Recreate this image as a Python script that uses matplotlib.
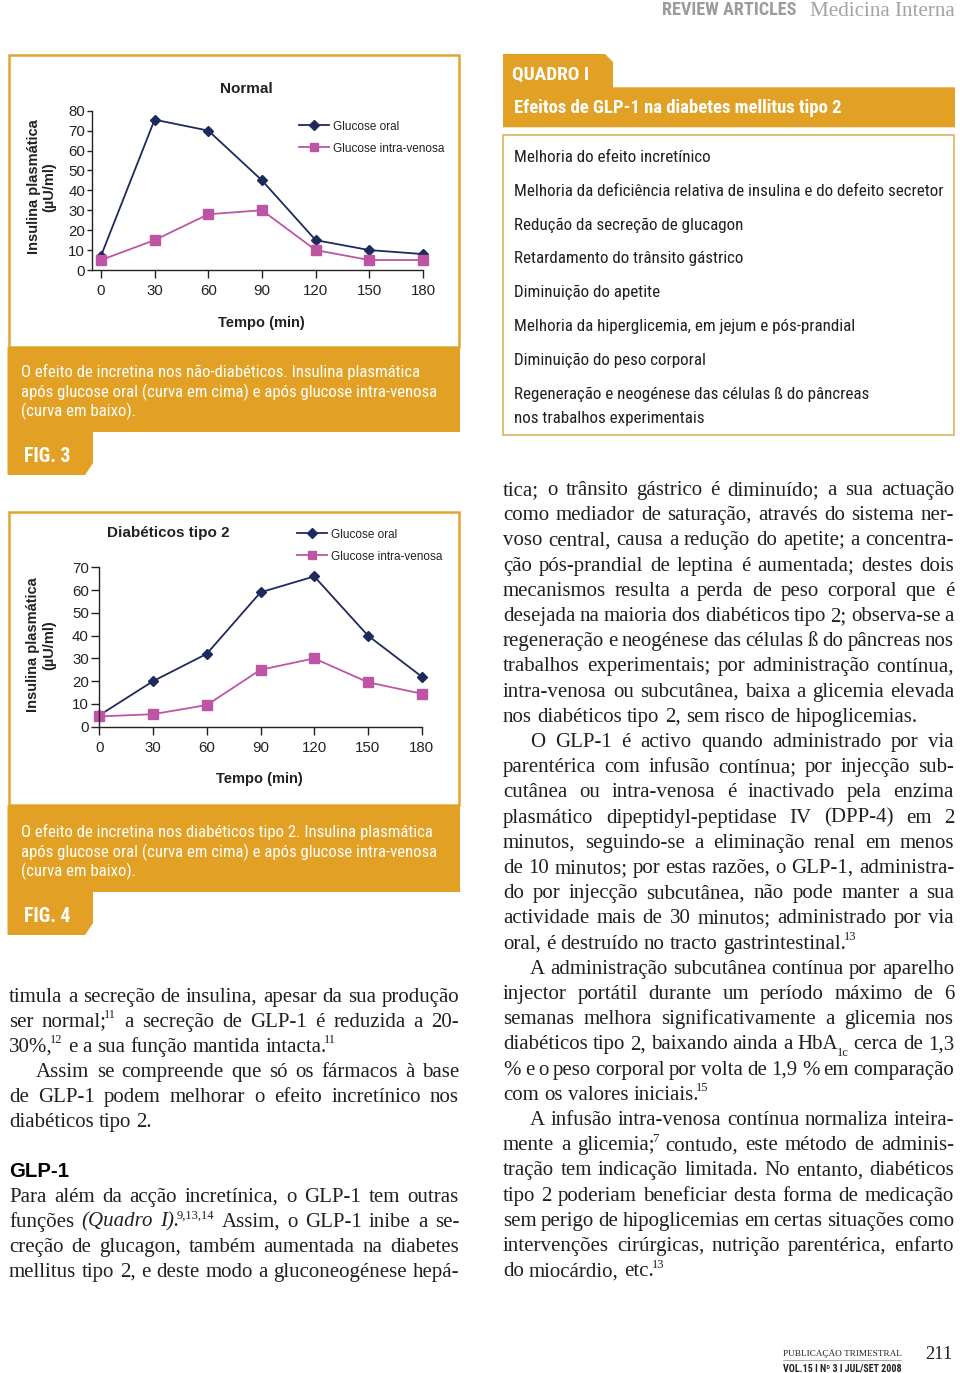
import matplotlib
matplotlib.use('Agg')
import matplotlib.pyplot as plt
from matplotlib import font_manager
from matplotlib.font_manager import FontProperties
from matplotlib.patches import Polygon, Rectangle

# ---- dados dos gráficos ----
tempo = [0, 30, 60, 90, 120, 150, 180]
normal_oral = [7, 75.5, 70, 45, 15, 10, 8]
normal_iv = [5, 15, 28, 30, 10, 5, 5]
diab_oral = [5, 20, 32, 59, 66, 40, 22]
diab_iv = [4.5, 5.5, 9.5, 25, 30, 19.5, 14.5]
series_nomes = ['Glucose oral', 'Glucose intra-venosa']
normal_yticks = [0, 10, 20, 30, 40, 50, 60, 70, 80]
diab_yticks = [0, 10, 20, 30, 40, 50, 60, 70]

# ---- textos ----
legenda_fig3 = ["O efeito de incretina nos não-diabéticos. Insulina plasmática",
                "após glucose oral (curva em cima) e após glucose intra-venosa",
                "(curva em baixo)."]
legenda_fig4 = ["O efeito de incretina nos diabéticos tipo 2. Insulina plasmática",
                "após glucose oral (curva em cima) e após glucose intra-venosa",
                "(curva em baixo)."]
quadro_itens = ["Melhoria do efeito incretínico",
                "Melhoria da deficiência relativa de insulina e do defeito secretor",
                "Redução da secreção de glucagon",
                "Retardamento do trânsito gástrico",
                "Diminuição do apetite",
                "Melhoria da hiperglicemia, em jejum e pós-prandial",
                "Diminuição do peso corporal",
                "Regeneração e neogénese das células ß do pâncreas",
                "nos trabalhos experimentais"]

# (linha inicial, recuo, linhas, última linha livre)
texto_esq = [
    (0, False, ["timula a secreção de insulina, apesar da sua produção",
                "ser normal;^11 a secreção de GLP-1 é reduzida a 20-",
                "30%,^12 e a sua função mantida intacta.^11"], True),
    (3, True, ["Assim se compreende que só os fármacos à base",
               "de GLP-1 podem melhorar o efeito incretínico nos",
               "diabéticos tipo 2."], True),
    (8, False, ["Para além da acção incretínica, o GLP-1 tem outras",
                "funções *(Quadro *I).^9,13,14 Assim, o GLP-1 inibe a se-",
                "creção de glucagon, também aumentada na diabetes",
                "mellitus tipo 2, e deste modo a gluconeogénese hepá-"], False),
]
texto_dir = [
    (0, False, ["tica; o trânsito gástrico é diminuído; a sua actuação",
                "como mediador de saturação, através do sistema ner-",
                "voso central, causa a redução do apetite; a concentra-",
                "ção pós-prandial de leptina é aumentada; destes dois",
                "mecanismos resulta a perda de peso corporal que é",
                "desejada na maioria dos diabéticos tipo 2; observa-se a",
                "regeneração e neogénese das células ß do pâncreas nos",
                "trabalhos experimentais; por administração contínua,",
                "intra-venosa ou subcutânea, baixa a glicemia elevada",
                "nos diabéticos tipo 2, sem risco de hipoglicemias."], True),
    (10, True, ["O GLP-1 é activo quando administrado por via",
                "parentérica com infusão contínua; por injecção sub-",
                "cutânea ou intra-venosa é inactivado pela enzima",
                "plasmático dipeptidyl-peptidase IV (DPP-4) em 2",
                "minutos, seguindo-se a eliminação renal em menos",
                "de 10 minutos; por estas razões, o GLP-1, administra-",
                "do por injecção subcutânea, não pode manter a sua",
                "actividade mais de 30 minutos; administrado por via",
                "oral, é destruído no tracto gastrintestinal.^13"], True),
    (19, True, ["A administração subcutânea contínua por aparelho",
                "injector portátil durante um período máximo de 6",
                "semanas melhora significativamente a glicemia nos",
                "diabéticos tipo 2, baixando ainda a HbA_1c cerca de 1,3",
                "% e o peso corporal por volta de 1,9 % em comparação",
                "com os valores iniciais.^15"], True),
    (25, True, ["A infusão intra-venosa contínua normaliza inteira-",
                "mente a glicemia;^7 contudo, este método de adminis-",
                "tração tem indicação limitada. No entanto, diabéticos",
                "tipo 2 poderiam beneficiar desta forma de medicação",
                "sem perigo de hipoglicemias em certas situações como",
                "intervenções cirúrgicas, nutrição parentérica, enfarto",
                "do miocárdio, etc.^13"], True),
]

# ---- cores e fontes ----
LARANJA = '#E2A124'
BORDA = '#E3A530'
NAVY = '#1F2A5C'
MAGENTA = '#BE55A4'
TINTA = '#231F20'

nomes = {f.name for f in font_manager.fontManager.ttflist}
def escolher(*cands):
    for c in cands:
        if c in nomes:
            return c
    return 'DejaVu Sans'

ESTREITA = escolher('Liberation Sans Narrow', 'Roboto Condensed', 'Open Sans Condensed',
                    'DejaVu Sans Condensed', 'Liberation Sans')
SANS = escolher('Liberation Sans', 'Arial', 'DejaVu Sans')
SERIF = escolher('Liberation Serif', 'DejaVu Serif')

W, H = 960, 1373
PX = 100 / 72.0

fig = plt.figure(figsize=(9.6, 13.73), dpi=100)
fig.patch.set_facecolor('white')
page = fig.add_axes([0, 0, 1, 1])
page.set_xlim(0, W)
page.set_ylim(H, 0)
page.axis('off')
renderer = fig.canvas.get_renderer()


def largura(s, fp):
    return renderer.get_text_width_height_descent(s, fp, ismath=False)[0]


def ajustar(s, fam, alvo, weight='normal', style='normal'):
    fp = FontProperties(family=fam, weight=weight, style=style, size=12)
    return 12 * alvo / largura(s, fp)


def rect_px(l, t, r, b):
    return [l / W, 1 - b / H, (r - l) / W, (b - t) / H]


# ---- cabeçalho e rodapé ----
page.text(662, 15, 'REVIEW ARTICLES', family=ESTREITA, weight='bold', color='#9C9C9C',
          size=ajustar('REVIEW ARTICLES', ESTREITA, 135, 'bold'))
page.text(810, 16, 'Medicina Interna', family=SERIF, color='#A3A3A3',
          size=ajustar('Medicina Interna', SERIF, 143))
page.text(783, 1356, 'PUBLICAÇÃO TRIMESTRAL', family=SERIF, color=TINTA,
          size=ajustar('PUBLICAÇÃO TRIMESTRAL', SERIF, 118))
page.plot([783, 901], [1360, 1360], color='#888888', lw=0.5)
page.text(783, 1371, 'VOL.15 I Nº 3 I JUL/SET 2008', family=ESTREITA, weight='bold', color=TINTA,
          size=ajustar('VOL.15 I Nº 3 I JUL/SET 2008', ESTREITA, 119, 'bold'))
page.text(925, 1359, '211', family=SERIF, color=TINTA, size=ajustar('211', SERIF, 27))

# ---- molduras das figuras ----
def moldura(top, bottom, band_bottom, tab_bottom, legenda, bases, fig_txt, fig_base):
    page.add_patch(Rectangle((8.5, top), 450.5, bottom - top, fc='white', ec=BORDA, lw=1.8))
    page.add_patch(Polygon([(7.5, bottom), (460, bottom), (460, band_bottom), (93, band_bottom),
                            (93, tab_bottom - 12), (85, tab_bottom), (7.5, tab_bottom)],
                           closed=True, fc=LARANJA, ec='none'))
    sz = ajustar(legenda[1], ESTREITA, 415)
    for s, yb in zip(legenda, bases):
        page.text(21, yb, s, family=ESTREITA, size=sz, color='white')
    page.text(24, fig_base, fig_txt, family=ESTREITA, weight='bold', color='white',
              size=ajustar('FIG. 3', ESTREITA, 46, 'bold'))

moldura(55, 347, 432, 475, legenda_fig3, [377, 397, 416.5], 'FIG. 3', 462)
moldura(512, 805, 892, 935, legenda_fig4, [836.7, 856.7, 876], 'FIG. 4', 921.7)

# ---- gráficos ----
def grafico(rect, xlim, ylim, yticks, oral, iv, titulo, tit_xy, leg_xy, ytick_len, ylab_xy, xlab_xy):
    ax = fig.add_axes(rect)
    ax.set_facecolor('none')
    ax.plot(tempo, oral, color=NAVY, marker='D', ms=5.5, lw=1.3, clip_on=False, label=series_nomes[0])
    ax.plot(tempo, iv, color=MAGENTA, marker='s', ms=7, lw=1.3, clip_on=False, label=series_nomes[1])
    ax.set_xlim(*xlim)
    ax.set_ylim(*ylim)
    ax.set_xticks(tempo)
    ax.set_yticks(yticks)
    for s in ('top', 'right'):
        ax.spines[s].set_visible(False)
    for s in ('left', 'bottom'):
        ax.spines[s].set_linewidth(1.0)
        ax.spines[s].set_color('#222222')
    ax.tick_params(axis='x', length=6, width=1.0, pad=4, labelsize=10.8, colors='#222222')
    ax.tick_params(axis='y', length=ytick_len, width=1.0, pad=1.5, labelsize=10.8, colors='#222222')
    for lab in ax.get_xticklabels() + ax.get_yticklabels():
        lab.set_family(SANS)
    ax.set_xlabel('Tempo (min)', family=SANS, weight='bold', size=10.5, va='center', color='#222222')
    ax.xaxis.set_label_coords(*xlab_xy)
    ax.set_ylabel('Insulina plasmática\n(µU/ml)', family=SANS, weight='bold', size=10.5,
                  va='center', ha='center', linespacing=1.15, color='#222222')
    ax.yaxis.set_label_coords(*ylab_xy)
    page.text(tit_xy[0], tit_xy[1], titulo, family=SANS, weight='bold', size=11,
              ha='center', va='center', color='#222222')
    ax.legend(loc='upper left', bbox_to_anchor=leg_xy, bbox_transform=page.transData,
              frameon=False, prop=FontProperties(family=SANS, size=8.5), handlelength=2.55,
              handletextpad=0.3, labelspacing=0.85, borderpad=0, borderaxespad=0,
              markerscale=0.85, labelcolor='#222222')
    return ax

grafico(rect_px(92, 110.7, 423, 270), (-5, 180), (0, 80), normal_yticks, normal_oral, normal_iv,
        'Normal', (246, 89), (299, 120.5), 3.5, (-0.153, 0.521), (0.513, -0.331))
grafico(rect_px(99.3, 567.3, 421.7, 726.7), (0, 180), (0, 70), diab_yticks, diab_oral, diab_iv,
        'Diabéticos tipo 2', (168, 533), (297, 528.5), 6, (-0.181, 0.513), (0.498, -0.33))

# ---- quadro I ----
page.add_patch(Polygon([(503, 54), (605, 54), (613, 62), (613, 87.3), (955, 87.3), (955, 127.3),
                        (503, 127.3)], closed=True, fc=LARANJA, ec='none'))
page.text(512, 79.3, 'QUADRO I', family=ESTREITA, weight='bold', color='white',
          size=ajustar('QUADRO I', ESTREITA, 77, 'bold'))
tit = 'Efeitos de GLP-1 na diabetes mellitus tipo 2'
page.text(514, 113.3, tit, family=ESTREITA, weight='bold', color='white',
          size=ajustar(tit, ESTREITA, 329, 'bold'))
page.add_patch(Rectangle((503, 135), 451, 300, fc='white', ec='#D9B461', lw=1.2))
sz_q = ajustar(quadro_itens[1], ESTREITA, 429)
bases_q = [162 + 33.8 * i for i in range(8)] + [423.3]
for s, yb in zip(quadro_itens, bases_q):
    page.text(514, yb, s, family=ESTREITA, size=sz_q, color=TINTA)

# ---- texto corrido justificado ----
bs = 0.97 * ajustar('nos diabéticos tipo 2, sem risco de hipoglicemias.', SERIF, 427)
fps = {'rm': FontProperties(family=SERIF, size=bs),
       'it': FontProperties(family=SERIF, style='italic', size=bs),
       'sup': FontProperties(family=SERIF, size=bs * 0.6),
       'sub': FontProperties(family=SERIF, size=bs * 0.6)}
desloc = {'rm': 0, 'it': 0, 'sup': -0.4 * bs * PX, 'sub': 0.3 * bs * PX}
recuo_ind = {'rm': 0, 'it': 0, 'sup': -2.5, 'sub': -1.5}
espaco = 0.25 * bs * PX


def partes(palavra):
    it = palavra.startswith('*')
    w = palavra[1:] if it else palavra
    base = 'it' if it else 'rm'
    for marca, tipo in (('^', 'sup'), ('_', 'sub')):
        if marca in w:
            a, b = w.split(marca, 1)
            return [(a, base), (b, tipo)]
    return [(w, base)]


def coluna(paragrafos, x0, x1, y0, dy, recuo=27):
    for inicio, indent, linhas, livre in paragrafos:
        for k, linha in enumerate(linhas):
            yb = y0 + dy * (inicio + k)
            xs = x0 + (recuo if indent and k == 0 else 0)
            palavras = [partes(p) for p in linha.split()]
            larg = [sum(largura(t, fps[m]) + recuo_ind[m] for t, m in p) for p in palavras]
            ultima = livre and k == len(linhas) - 1
            if ultima or len(palavras) == 1:
                gap = espaco
            else:
                gap = max((x1 - xs - sum(larg)) / (len(palavras) - 1), espaco * 0.4)
            x = xs
            for p, lw_ in zip(palavras, larg):
                xx = x
                for t, m in p:
                    xx += recuo_ind[m]
                    page.text(xx, yb + desloc[m], t, fontproperties=fps[m], color=TINTA,
                              va='baseline', ha='left')
                    xx += largura(t, fps[m])
                x += lw_ + gap

coluna(texto_esq, 9, 459, 1001.7, 25.0)
coluna(texto_dir, 503, 954, 495, 25.2)
page.text(9, 1176.7, 'GLP-1', family=SANS, weight='bold', color='black',
          size=ajustar('GLP-1', SANS, 60, 'bold'))

fig.savefig('out.png', dpi=100, facecolor='white')
